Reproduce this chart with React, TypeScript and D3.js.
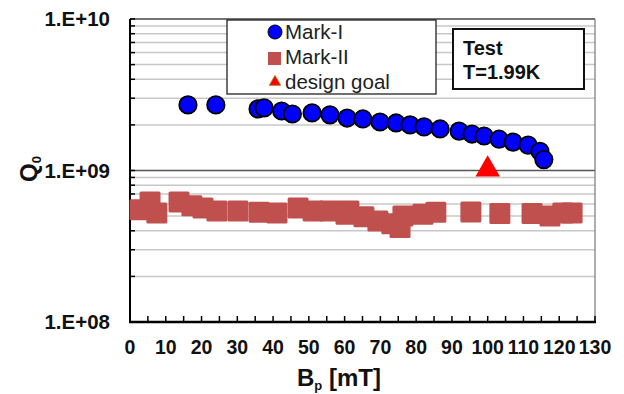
import React from 'react';
import * as d3 from 'd3';

// Mark-I (blue circles): Bp [mT], Q0
const markIBp = [16.2, 24, 35.8, 37.5, 42.4, 45.4, 50.9, 55.9, 60.7, 65.1, 69.9, 74.4, 78.3, 82.2, 86.7, 92.0, 95.6, 99.0, 103.2, 107.1, 111.3, 114.6, 115.7];
const markIQ = [2.71e9, 2.71e9, 2.55e9, 2.59e9, 2.47e9, 2.36e9, 2.40e9, 2.33e9, 2.22e9, 2.19e9, 2.09e9, 2.06e9, 2.0e9, 1.94e9, 1.88e9, 1.82e9, 1.74e9, 1.69e9, 1.61e9, 1.54e9, 1.47e9, 1.34e9, 1.18e9];

// Mark-II (red squares)
const markIIBp = [2.8, 5.6, 7.5, 13.7, 17.3, 20.4, 24.3, 30.2, 36.1, 41.1, 47, 51.2, 55.9, 60.4, 61.2, 65.4, 69.3, 73.2, 75.5, 76.3, 81.9, 85.5, 95.3, 103.4, 112.4, 117.4, 121, 123.6];
const markIIQ = [5.5e8, 6.2e8, 5.25e8, 6.2e8, 5.85e8, 5.65e8, 5.4e8, 5.4e8, 5.3e8, 5.25e8, 5.65e8, 5.4e8, 5.4e8, 5.15e8, 5.4e8, 4.95e8, 4.65e8, 4.45e8, 4.2e8, 5.0e8, 5.15e8, 5.3e8, 5.33e8, 5.2e8, 5.2e8, 5.0e8, 5.25e8, 5.25e8];

// design goal
const goalBp = [100];
const goalQ = [1.0e9];

const xTickLabels = [0, 10, 20, 30, 40, 50, 60, 70, 80, 90, 100, 110, 120, 130];
const yTickValues = [1e8, 1e9, 1e10];
const yTickLabels = ['1.E+08', '1.E+09', '1.E+10'];
const legendLabels = ['Mark-I', 'Mark-II', 'design goal'];
const noteLines = ['Test', 'T=1.99K'];

const FONT = 'Arial, "Liberation Sans", sans-serif';

export default function App() {
  const width = 624;
  const height = 394;
  const margin = { top: 19, right: 29, bottom: 72, left: 130 };

  const x = d3.scaleLinear().domain([0, 130]).range([margin.left, width - margin.right]);
  const y = d3.scaleLog().domain([1e8, 1e10]).range([height - margin.bottom, margin.top]);

  const allTicks = y.ticks();
  const minorTicks = allTicks.filter(t => !yTickValues.includes(t));
  const xMinor = d3.range(0, 131, 5);

  const x0 = x.range()[0];
  const x1 = x.range()[1];
  const y0 = y.range()[0];
  const y1 = y.range()[1];

  const tri = d3.symbol().type(d3.symbolTriangle).size(260)();
  const triSmall = d3.symbol().type(d3.symbolTriangle).size(60)();

  return (
    <svg width={width} height={height} style={{ position: 'absolute', left: 0, top: 0, background: '#fff' }}>
      {/* minor gridlines */}
      {minorTicks.map(t => (
        <line key={'g' + t} x1={x0} x2={x1} y1={y(t)} y2={y(t)} stroke="#c8c8c8" strokeWidth={1.5} />
      ))}
      {/* major line at 1E+09 */}
      <line x1={x0} x2={x1} y1={y(1e9)} y2={y(1e9)} stroke="#555" strokeWidth={1.5} />
      {/* frame top/right */}
      <line x1={x0} x2={x1} y1={y1} y2={y1} stroke="#444" strokeWidth={1.5} />
      <line x1={x1} x2={x1} y1={y1} y2={y0} stroke="#777" strokeWidth={1.2} />

      {/* left axis */}
      <line x1={x0} x2={x0} y1={y1} y2={y0} stroke="#000" strokeWidth={2} />
      {allTicks.map(t => (
        <line key={'yt' + t} x1={x0} x2={x0 + 5} y1={y(t)} y2={y(t)} stroke="#000" strokeWidth={1.5} />
      ))}
      {/* bottom axis */}
      <line x1={x0 - 1} x2={x1 + 1} y1={y0} y2={y0} stroke="#000" strokeWidth={2.5} />
      {xMinor.map(v => (
        <line key={'xt' + v} x1={x(v)} x2={x(v)} y1={y0} y2={y0 - 6} stroke="#000" strokeWidth={1.5} />
      ))}

      {/* tick labels */}
      {xTickLabels.map(v => (
        <text key={'xl' + v} x={x(v)} y={354} textAnchor="middle" fontFamily={FONT} fontWeight="bold" fontSize={19.5} fill="#111">
          {v}
        </text>
      ))}
      {yTickValues.map((v, i) => (
        <text key={'yl' + v} x={110} y={y(v) + 7} textAnchor="end" fontFamily={FONT} fontWeight="bold" fontSize={20.5} fill="#111">
          {yTickLabels[i]}
        </text>
      ))}

      {/* axis titles */}
      <text x={297} y={386} fontFamily={FONT} fontWeight="bold" fontSize={24} fill="#111">
        B<tspan fontSize={13} dy={4}>p</tspan>
        <tspan dy={-4}> [mT]</tspan>
      </text>
      <text transform="translate(37,182) rotate(-90)" fontFamily={FONT} fontWeight="bold" fontSize={24} fill="#111">
        Q<tspan fontSize={13} dy={4}>0</tspan>
      </text>

      {/* Mark-II squares */}
      {markIIBp.map((b, i) => (
        <rect key={'s' + i} x={x(b) - 10.5} y={y(markIIQ[i]) - 10.5} width={21} height={21} rx={1.5} fill="#C0504D" />
      ))}

      {/* Mark-I circles */}
      {markIBp.map((b, i) => (
        <circle key={'c' + i} cx={x(b)} cy={y(markIQ[i])} r={8.7} fill="#0000FF" stroke="#000" strokeWidth={1.8} />
      ))}

      {/* design goal */}
      {goalBp.map((b, i) => (
        <path key={'t' + i} d={tri} transform={`translate(${x(b)},${y(goalQ[i]) - 1})`} fill="#FF0000" />
      ))}

      {/* legend */}
      <rect x={227} y={20} width={209} height={74} fill="#fff" stroke="#222" strokeWidth={1.3} />
      <circle cx={275} cy={32} r={7} fill="#0000FF" stroke="#000" strokeWidth={1} />
      <rect x={268} y={52} width={13} height={13} fill="#C0504D" />
      <path d={triSmall} transform="translate(275,82)" fill="#FF0000" stroke="#9a9a30" strokeWidth={0.8} />
      {legendLabels.map((l, i) => (
        <text key={l} x={285} y={39 + i * 25} fontFamily={FONT} fontSize={20.5} fill="#222">
          {l}
        </text>
      ))}

      {/* note box */}
      <rect x={453} y={29} width={131} height={60} fill="#fff" stroke="#111" strokeWidth={2} />
      {noteLines.map((l, i) => (
        <text key={l} x={463} y={55 + i * 24} fontFamily={FONT} fontWeight="bold" fontSize={20} fill="#111">
          {l}
        </text>
      ))}
    </svg>
  );
}
